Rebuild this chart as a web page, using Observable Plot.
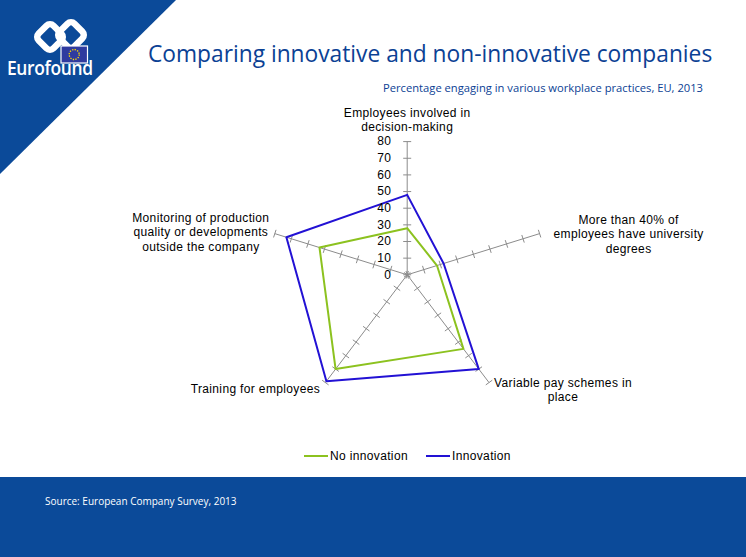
<!DOCTYPE html>
<html><head><meta charset="utf-8">
<script src="https://cdn.jsdelivr.net/npm/d3@7"></script>
<script src="https://cdn.jsdelivr.net/npm/@observablehq/plot@0.6"></script>
<style>
html,body{margin:0;padding:0;background:#fff;}
#page{position:relative;width:746px;height:557px;overflow:hidden;background:#fff;font-family:"Liberation Sans",Arial,sans-serif;}
#deco{position:absolute;left:0;top:0;}
#title{position:absolute;left:148px;top:38px;font-family:"Open Sans",sans-serif;font-size:22.75px;color:#0b4194;white-space:nowrap;}
#subtitle{position:absolute;right:43px;top:80px;font-family:"Open Sans",sans-serif;font-size:11.2px;color:#0b4194;white-space:nowrap;}
#band{position:absolute;left:0;top:477px;width:746px;height:80px;background:#0b4a99;}
#source{position:absolute;left:45px;top:494px;font-family:"Open Sans",sans-serif;font-size:10px;color:#fff;white-space:nowrap;}
#chart{position:absolute;left:100px;top:100px;}
#legend{position:absolute;left:0;top:449px;width:746px;font-size:12px;color:#000;letter-spacing:0.35px;}
.lg{position:absolute;top:0;white-space:nowrap;}
.sw{display:inline-block;width:24px;height:0;border-top:2px solid;vertical-align:middle;margin-right:2px;position:relative;top:-1px;}
#logotext{position:absolute;left:7px;top:54px;font-family:"Open Sans",sans-serif;font-weight:600;font-size:20px;color:#fff;letter-spacing:-0.4px;transform:scaleX(0.87);transform-origin:0 0;}
</style></head><body>
<div id="page">
  <svg id="deco" width="746" height="200">
    <polygon points="0,0 176,0 0,174" fill="#0b4a99"/>
    <g fill="none" stroke="#fff" stroke-width="6.5">
      <rect x="-10.5" y="-10.5" width="21" height="21" rx="5" transform="translate(50,37) rotate(45)"/>
      <rect x="-10.5" y="-10.5" width="21" height="21" rx="5" transform="translate(71,35) rotate(45)"/>
    </g>
    <rect x="61" y="46" width="26.5" height="17" fill="#2f3b9f" stroke="#fff" stroke-width="1.2"/>
    <circle cx="74.2" cy="54.5" r="5" fill="none" stroke="#ffdd00" stroke-width="1.3" stroke-dasharray="1.3 1.3"/>
  </svg>
  <div id="logotext">Eurofound</div>
  <div id="title">Comparing innovative and non-innovative companies</div>
  <div id="subtitle">Percentage engaging in various workplace practices, EU, 2013</div>
  <div id="chart"></div>
  <div id="legend"></div>
  <div id="band"></div>
  <div id="source">Source: European Company Survey, 2013</div>
</div>
<script>
// ---- data ----
const categories = [
  "Employees involved in\ndecision-making",
  "More than 40% of\nemployees have university\ndegrees",
  "Variable pay schemes in\nplace",
  "Training for employees",
  "Monitoring of production\nquality or developments\noutside the company"
];
const seriesNames = ["No innovation", "Innovation"];
const noInnovation = [28, 18, 55, 70, 53];
const innovation = [48, 22, 70, 79, 73];
const tickValues = [0, 10, 20, 30, 40, 50, 60, 70, 80];

// ---- layout (styling only) ----
const colors = ["#8cc21f", "#2211d4"];
const W = 600, H = 345;
const cx = 306.7, cy = 174.3;      // centre of the radar in svg px
const kx = 1.74, ky = 1.665;       // px per unit
const maxV = 80;
const labelOffsets = [[0, -22], [89, 0], [74, 7], [-70, 6], [-74, -2]];

const n = categories.length;
const angle = i => (i * 2 * Math.PI) / n;
const px = (i, v) => v * Math.sin(angle(i));
const py = (i, v) => v * Math.cos(angle(i));

const axes = categories.map((name, i) => ({name, i}));
const ticks = [];
axes.forEach(a => tickValues.forEach(v => ticks.push({i: a.i, v})));
const th = 4; // tick half-length px

const seriesValues = [noInnovation, innovation];
const rows = [];
seriesNames.forEach((s, k) => {
  const vals = seriesValues[k];
  for (let j = 0; j <= n; j++) {
    const i = j % n;
    rows.push({series: s, i, v: vals[i]});
  }
});

const chart = Plot.plot({
  width: W, height: H,
  marginTop: 0, marginRight: 0, marginBottom: 0, marginLeft: 0,
  x: {domain: [-cx / kx, (W - cx) / kx], range: [0, W], axis: null},
  y: {domain: [-(H - cy) / ky, cy / ky], range: [H, 0], axis: null},
  color: {domain: seriesNames, range: colors},
  style: {background: "transparent", fontFamily: "'Liberation Sans', Arial, sans-serif", fontSize: "12px", letterSpacing: "0.35px", overflow: "visible"},
  marks: [
    Plot.link(axes, {x1: () => 0, y1: () => 0, x2: d => px(d.i, maxV), y2: d => py(d.i, maxV), stroke: "#8c8c8c", strokeWidth: 1}),
    Plot.link(ticks, {
      x1: d => px(d.i, d.v) + Math.cos(angle(d.i)) * th / kx,
      y1: d => py(d.i, d.v) - Math.sin(angle(d.i)) * th / ky,
      x2: d => px(d.i, d.v) - Math.cos(angle(d.i)) * th / kx,
      y2: d => py(d.i, d.v) + Math.sin(angle(d.i)) * th / ky,
      stroke: "#8c8c8c", strokeWidth: 1
    }),
    Plot.line(rows, {x: d => px(d.i, d.v), y: d => py(d.i, d.v), z: "series", stroke: "series", strokeWidth: 2, curve: "linear"}),
    Plot.text(tickValues, {x: () => 0, y: d => d, text: d => String(d), textAnchor: "end", dx: -16, fill: "#000", fontSize: 12}),
    ...axes.map(a => Plot.text([a], {
      x: d => px(d.i, maxV), y: d => py(d.i, maxV), text: "name",
      textAnchor: "middle", lineHeight: 1.2, fill: "#000", fontSize: 12,
      dx: labelOffsets[a.i][0], dy: labelOffsets[a.i][1]
    }))
  ]
});
document.getElementById("chart").appendChild(chart);

// legend
const legend = document.getElementById("legend");
const legendX = [304, 426];
seriesNames.forEach((s, k) => {
  const d = document.createElement("div");
  d.className = "lg";
  d.style.left = legendX[k] + "px";
  d.innerHTML = `<span class="sw" style="border-color:${colors[k]}"></span>${s}`;
  legend.appendChild(d);
});
</script>
</body></html>
